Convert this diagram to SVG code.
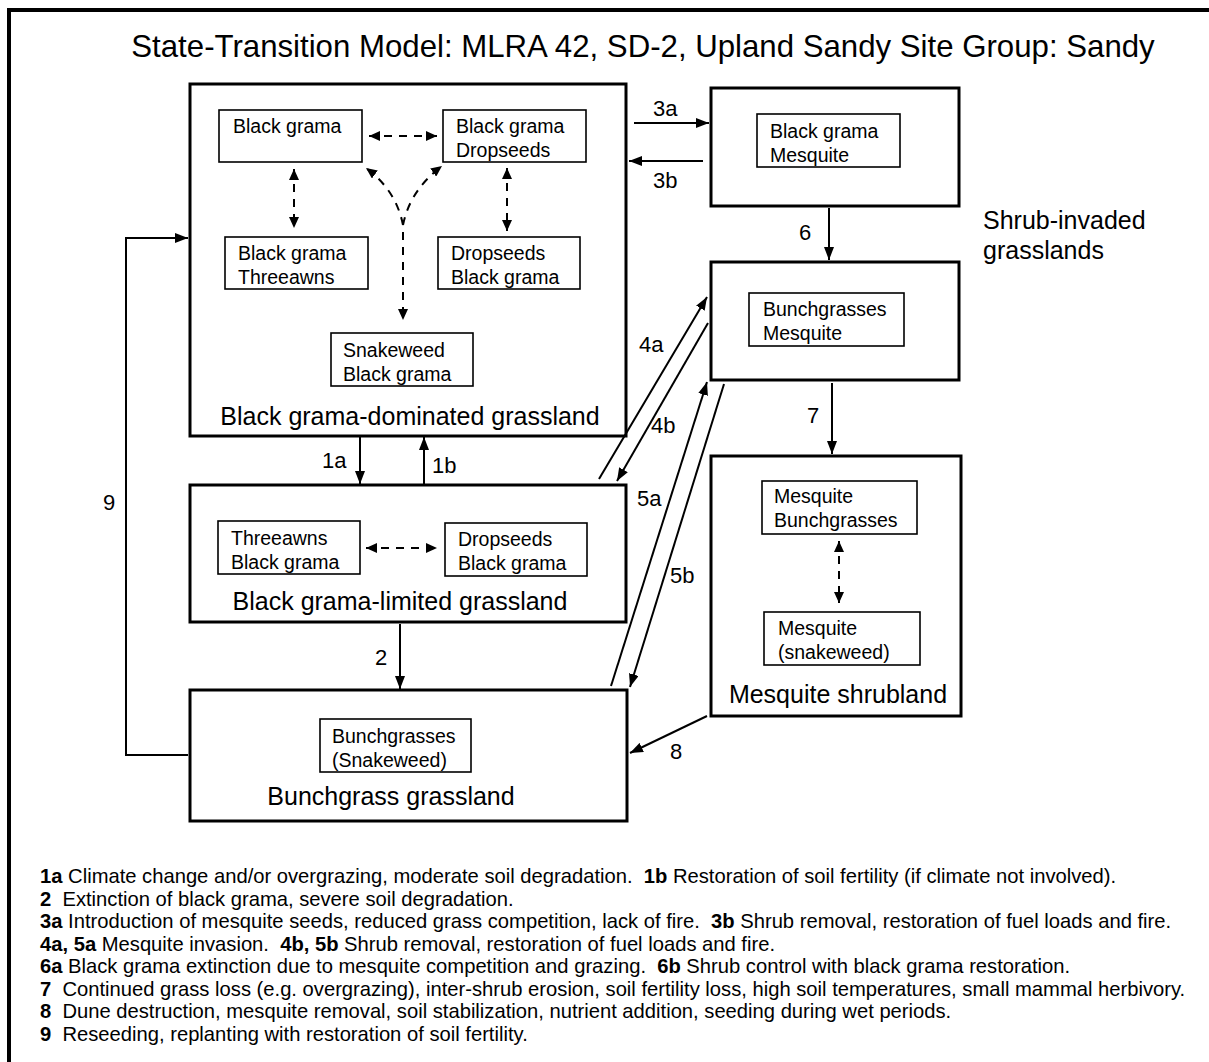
<svg xmlns="http://www.w3.org/2000/svg" width="1209" height="1062" viewBox="0 0 1209 1062">
<style>
text{font-family:"Liberation Sans",Arial,sans-serif;fill:#000}
.title{font-size:31.2px}
.st{font-size:25px}
.in{font-size:19.5px}
.lb{font-size:22px}
.lg{font-size:20.2px;white-space:pre}
.b{font-weight:bold}
.big{fill:#fff;stroke:#000;stroke-width:3}
.sm{fill:#fff;stroke:#000;stroke-width:1.6}
.ar{fill:none;stroke:#000;stroke-width:2;marker-end:url(#ah)}
.da{fill:none;stroke:#000;stroke-width:2;stroke-dasharray:8 7;marker-start:url(#dh);marker-end:url(#dh)}
.de{fill:none;stroke:#000;stroke-width:2;stroke-dasharray:8 7;marker-end:url(#dh)}
</style>
<defs>
<marker id="ah" viewBox="0 0 13 10" refX="13" refY="5" markerWidth="13" markerHeight="10" orient="auto-start-reverse" markerUnits="userSpaceOnUse"><path d="M0,0 L13,5 L0,10 z" fill="#000"/></marker>
<marker id="dh" viewBox="0 0 11 10" refX="11" refY="5" markerWidth="11" markerHeight="10" orient="auto-start-reverse" markerUnits="userSpaceOnUse"><path d="M0,0 L11,5 L0,10 z" fill="#000"/></marker>
</defs>
<rect width="1209" height="1062" fill="#fff"/>
<path d="M9,1062 V10 H1209" fill="none" stroke="#000" stroke-width="4"/>
<text class="title" x="643" y="57" text-anchor="middle">State-Transition Model: MLRA 42, SD-2, Upland Sandy Site Group: Sandy</text>

<g id="state-black-grama-dominated">
<rect class="big" x="190" y="84" width="436" height="352"/>
<text class="st" x="410" y="425" text-anchor="middle">Black grama-dominated grassland</text>
</g>
<g id="n-bg"><rect class="sm" x="219" y="110" width="143" height="52"/><text class="in" x="233" y="133">Black grama</text></g>
<g id="n-bg-ds"><rect class="sm" x="443" y="110" width="143" height="52"/><text class="in" x="456" y="133">Black grama</text><text class="in" x="456" y="157">Dropseeds</text></g>
<g id="n-bg-ta"><rect class="sm" x="225" y="237" width="143" height="52"/><text class="in" x="238" y="260">Black grama</text><text class="in" x="238" y="284">Threeawns</text></g>
<g id="n-ds-bg"><rect class="sm" x="438" y="237" width="142" height="52"/><text class="in" x="451" y="260">Dropseeds</text><text class="in" x="451" y="284">Black grama</text></g>
<g id="n-sw-bg"><rect class="sm" x="331" y="333" width="142" height="53"/><text class="in" x="343" y="357">Snakeweed</text><text class="in" x="343" y="381">Black grama</text></g>

<g id="state-black-grama-limited">
<rect class="big" x="190" y="485" width="436" height="137"/>
<text class="st" x="400" y="610" text-anchor="middle">Black grama-limited grassland</text>
</g>
<g id="n-ta-bg"><rect class="sm" x="218" y="521" width="142" height="53"/><text class="in" x="231" y="545">Threeawns</text><text class="in" x="231" y="569">Black grama</text></g>
<g id="n-ds-bg2"><rect class="sm" x="445" y="523" width="142" height="53"/><text class="in" x="458" y="546">Dropseeds</text><text class="in" x="458" y="570">Black grama</text></g>

<g id="state-bunchgrass">
<rect class="big" x="190" y="690" width="437" height="131"/>
<text class="st" x="391" y="805" text-anchor="middle">Bunchgrass grassland</text>
</g>
<g id="n-bunch-sw"><rect class="sm" x="320" y="719" width="151" height="53"/><text class="in" x="332" y="743">Bunchgrasses</text><text class="in" x="332" y="767">(Snakeweed)</text></g>

<g id="state-bg-mesquite">
<rect class="big" x="711" y="88" width="248" height="118"/>
</g>
<g id="n-bg-mq"><rect class="sm" x="757" y="114" width="143" height="53"/><text class="in" x="770" y="138">Black grama</text><text class="in" x="770" y="162">Mesquite</text></g>

<g id="state-bunch-mesquite">
<rect class="big" x="711" y="262" width="248" height="118"/>
</g>
<g id="n-bunch-mq"><rect class="sm" x="749" y="293" width="155" height="53"/><text class="in" x="763" y="316">Bunchgrasses</text><text class="in" x="763" y="340">Mesquite</text></g>

<g id="label-shrub-invaded">
<text class="st" x="983" y="229">Shrub-invaded</text>
<text class="st" x="983" y="259">grasslands</text>
</g>

<g id="state-mesquite-shrubland">
<rect class="big" x="711" y="456" width="250" height="260"/>
<text class="st" x="838" y="703" text-anchor="middle">Mesquite shrubland</text>
</g>
<g id="n-mq-bunch"><rect class="sm" x="762" y="481" width="155" height="53"/><text class="in" x="774" y="503">Mesquite</text><text class="in" x="774" y="527">Bunchgrasses</text></g>
<g id="n-mq-sw"><rect class="sm" x="764" y="612" width="156" height="53"/><text class="in" x="778" y="635">Mesquite</text><text class="in" x="778" y="659">(snakeweed)</text></g>

<g id="connectors">
<path class="da" d="M369,136 H437"/>
<path class="da" d="M294,169 V228"/>
<path class="da" d="M507,168 V231"/>
<path class="de" d="M403,225 Q396,190 366,168"/>
<path class="de" d="M403,225 Q410,190 442,166"/>
<path class="de" d="M403,232 V320"/>
<path class="da" d="M366,548 H437"/>
<path class="da" d="M839,541 V603"/>

<path class="ar" d="M360,437 V484"/>
<path class="ar" d="M424,484 V437"/>
<path class="ar" d="M400,624 V689"/>
<path class="ar" d="M634,123 H709"/>
<path class="ar" d="M703,161 H629"/>
<path class="ar" d="M829,208 V260"/>
<path class="ar" d="M832,383 V454"/>
<path class="ar" d="M599,479 L707,297"/>
<path class="ar" d="M708,323 L617,481"/>
<path class="ar" d="M611,686 L707,382"/>
<path class="ar" d="M724,384 L630,687"/>
<path class="ar" d="M707,716 L630,753"/>
<path class="ar" d="M188,755 H126 V238 H188"/>

<text class="lb" x="322" y="468">1a</text>
<text class="lb" x="432" y="473">1b</text>
<text class="lb" x="375" y="665">2</text>
<text class="lb" x="653" y="116">3a</text>
<text class="lb" x="653" y="188">3b</text>
<text class="lb" x="799" y="240">6</text>
<text class="lb" x="807" y="423">7</text>
<text class="lb" x="639" y="352">4a</text>
<text class="lb" x="651" y="433">4b</text>
<text class="lb" x="637" y="506">5a</text>
<text class="lb" x="670" y="583">5b</text>
<text class="lb" x="670" y="759">8</text>
<text class="lb" x="103" y="510">9</text>
</g>

<g id="legend">
<text class="lg" x="40" y="883"><tspan class="b">1a</tspan> Climate change and/or overgrazing, moderate soil degradation.  <tspan class="b">1b</tspan> Restoration of soil fertility (if climate not involved).</text>
<text class="lg" x="40" y="905.5"><tspan class="b">2</tspan>  Extinction of black grama, severe soil degradation.</text>
<text class="lg" x="40" y="928"><tspan class="b">3a</tspan> Introduction of mesquite seeds, reduced grass competition, lack of fire.  <tspan class="b">3b</tspan> Shrub removal, restoration of fuel loads and fire.</text>
<text class="lg" x="40" y="950.5"><tspan class="b">4a, 5a</tspan> Mesquite invasion.  <tspan class="b">4b, 5b</tspan> Shrub removal, restoration of fuel loads and fire.</text>
<text class="lg" x="40" y="973"><tspan class="b">6a</tspan> Black grama extinction due to mesquite competition and grazing.  <tspan class="b">6b</tspan> Shrub control with black grama restoration.</text>
<text class="lg" x="40" y="995.5"><tspan class="b">7</tspan>  Continued grass loss (e.g. overgrazing), inter-shrub erosion, soil fertility loss, high soil temperatures, small mammal herbivory.</text>
<text class="lg" x="40" y="1018"><tspan class="b">8</tspan>  Dune destruction, mesquite removal, soil stabilization, nutrient addition, seeding during wet periods.</text>
<text class="lg" x="40" y="1040.5"><tspan class="b">9</tspan>  Reseeding, replanting with restoration of soil fertility.</text>
</g>
</svg>
